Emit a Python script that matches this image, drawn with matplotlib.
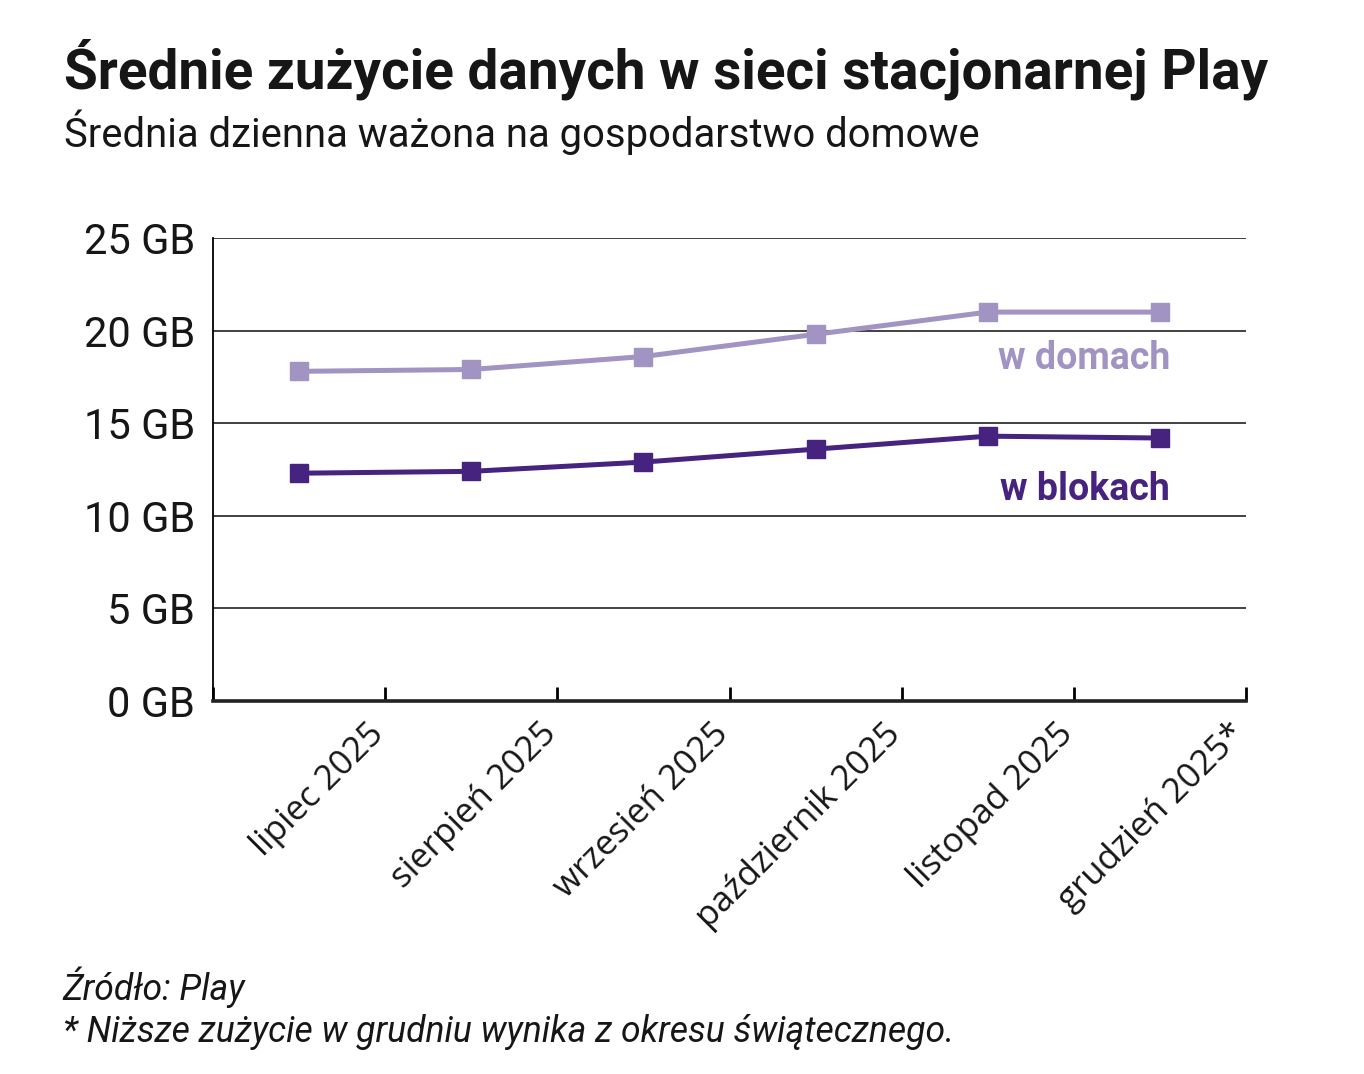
import matplotlib
matplotlib.use("Agg")
import matplotlib.pyplot as plt
import matplotlib.transforms as mtransforms
import numpy as np

# data
months = ["lipiec 2025", "sierpień 2025", "wrzesień 2025",
          "październik 2025", "listopad 2025", "grudzień 2025*"]
w_domach = [17.8, 17.9, 18.6, 19.8, 21.0, 21.0]
w_blokach = [12.3, 12.4, 12.9, 13.6, 14.3, 14.2]
y_ticks = [0, 5, 10, 15, 20, 25]

LIGHT = "#a193c2"
DARK = "#45237e"
INK = "#161616"

plt.rcParams["font.family"] = ["Roboto", "DejaVu Sans"]

fig = plt.figure(figsize=(13.64, 10.74), dpi=100)
ax = fig.add_axes([0.1562, 0.3473, 0.7573, 0.4311])

x = np.arange(len(months))
ax.plot(x, w_domach, color=LIGHT, lw=3.6, marker="s", ms=13, zorder=3)
ax.plot(x, w_blokach, color=DARK, lw=3.6, marker="s", ms=13, zorder=3)

ax.set_xlim(-0.5, len(months) - 0.5)
ax.set_ylim(0, 25)
ax.set_yticks(y_ticks)
ax.set_yticklabels([f"{v} GB" for v in y_ticks], fontsize=30, color=INK)
ax.tick_params(axis="y", length=0, pad=13)
for v in y_ticks[1:]:
    ax.axhline(v, color="#333333", lw=1.3, zorder=1)

# category boundaries carry the ticks; labels sit at the right boundary
bounds = np.arange(len(months) + 1) - 0.5
ax.set_xticks(bounds)
ax.set_xticklabels([""] + months, rotation=45, ha="right", va="center",
                   rotation_mode="anchor", fontsize=25, family="Open Sans",
                   color=INK)
ax.tick_params(axis="x", direction="in", length=10, width=2, pad=20)
shift = mtransforms.ScaledTranslation(-6 / 100, 0, fig.dpi_scale_trans)
for lab in ax.get_xticklabels():
    lab.set_transform(lab.get_transform() + shift)

for s in ["top", "right"]:
    ax.spines[s].set_visible(False)
ax.spines["left"].set_linewidth(1.3)
ax.spines["bottom"].set_linewidth(2.6)
ax.spines["bottom"].set_color("#222222")

ax.text(5.06, 18.5, "w domach", color=LIGHT, fontsize=27, fontweight="bold",
        ha="right", va="center")
ax.text(5.06, 11.4, "w blokach", color=DARK, fontsize=27, fontweight="bold",
        ha="right", va="center")

fig.text(0.047, 0.918, "Średnie zużycie danych w sieci stacjonarnej Play",
         fontsize=39.5, fontweight="bold", color=INK, va="baseline")
fig.text(0.047, 0.863, "Średnia dzienna ważona na gospodarstwo domowe",
         fontsize=28.8, color=INK, va="baseline")

fig.text(0.046, 0.069, "Źródło: Play", fontsize=25.6, style="italic",
         color=INK, va="baseline")
fig.text(0.046, 0.030, "* Niższe zużycie w grudniu wynika z okresu świątecznego.",
         fontsize=25.6, style="italic", color=INK, va="baseline")

fig.savefig("out.png", dpi=100, facecolor="white")
